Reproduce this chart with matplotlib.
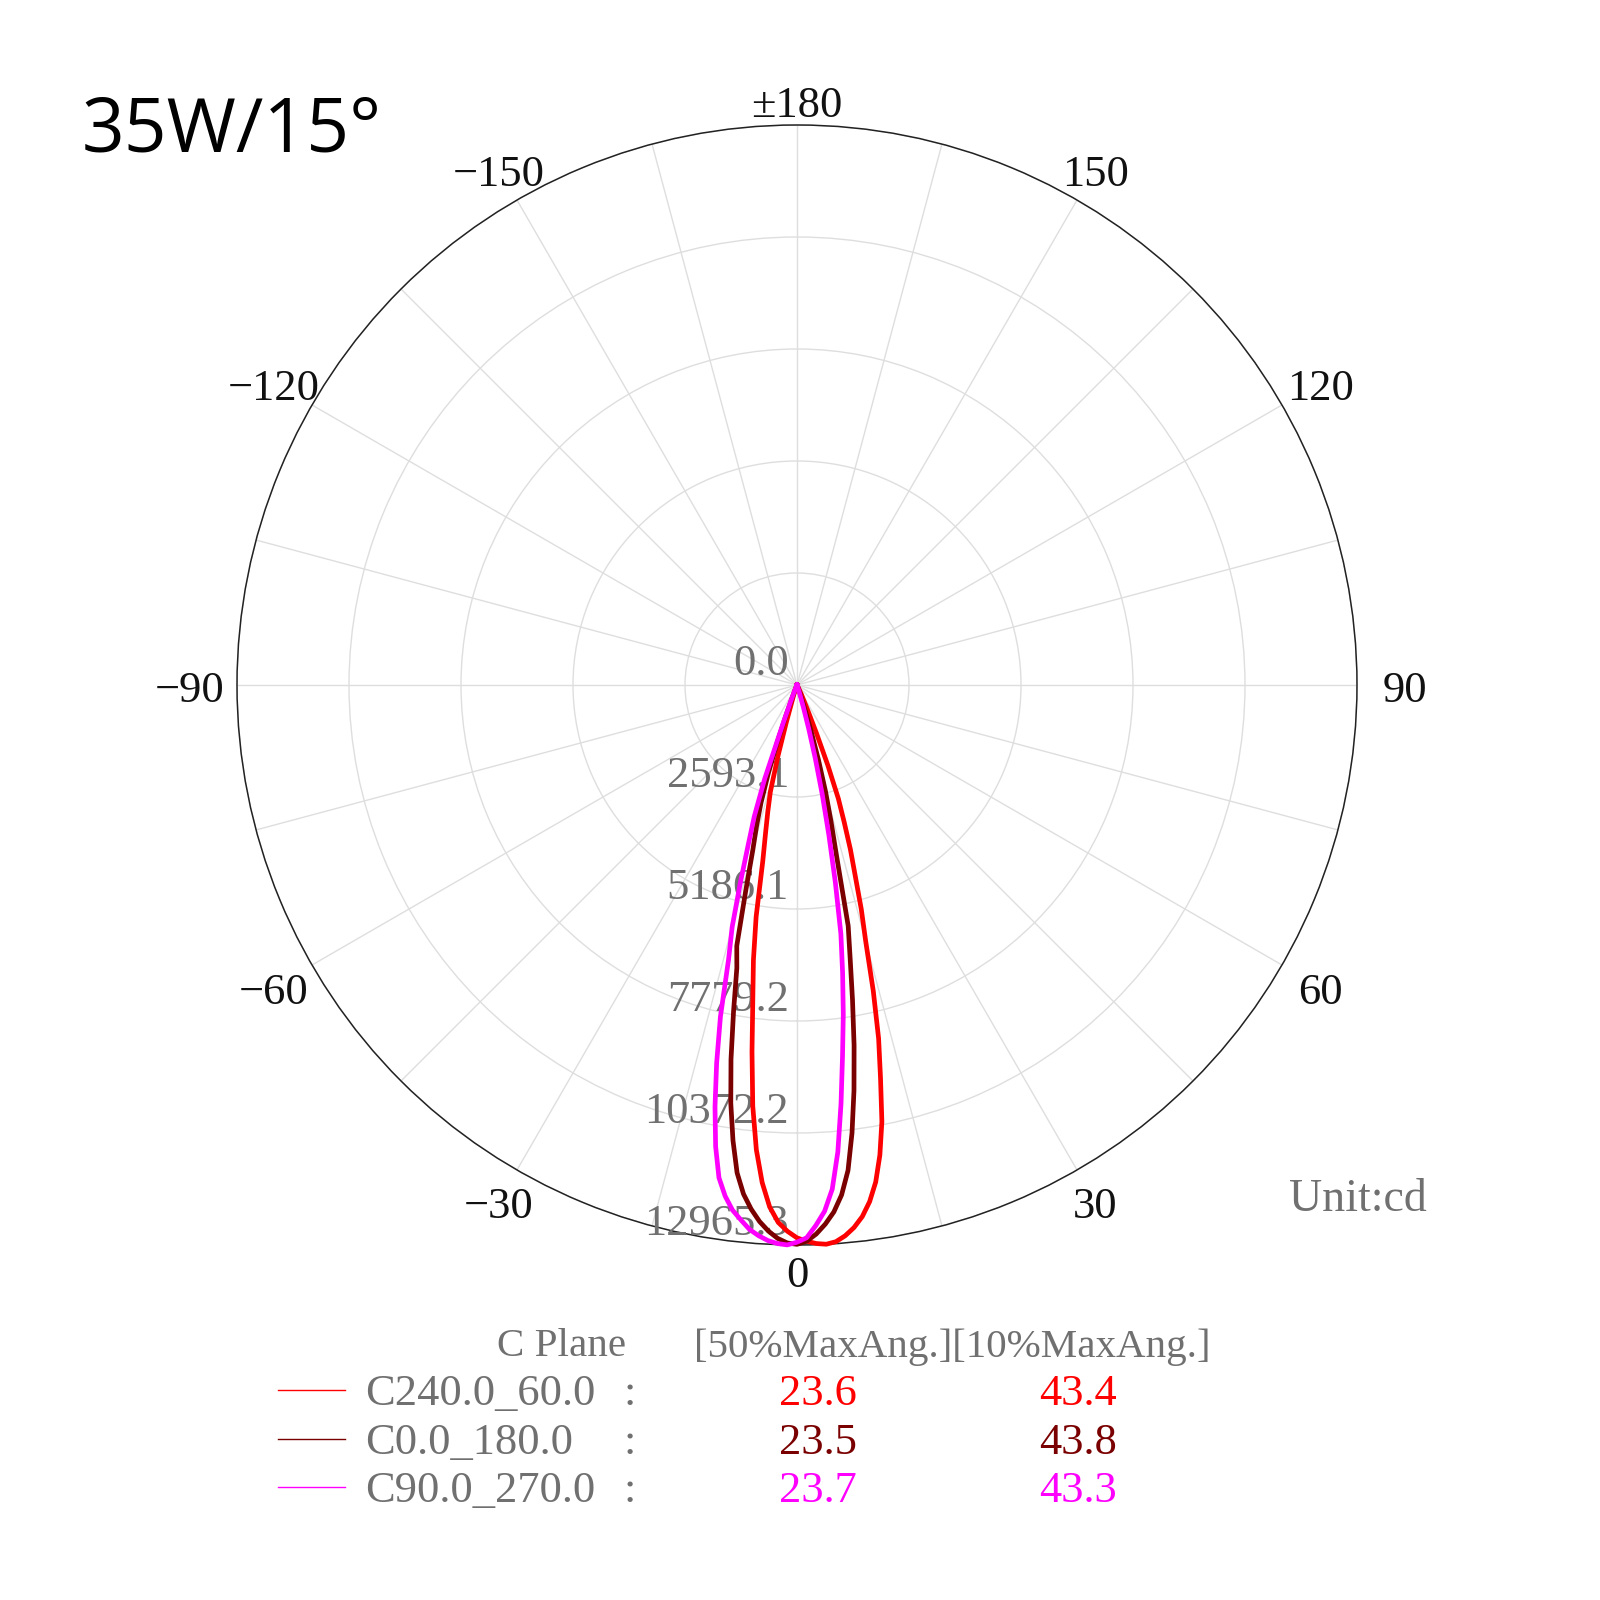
import numpy as np
import matplotlib
matplotlib.use("Agg")
import matplotlib.pyplot as plt
from matplotlib.lines import Line2D
from matplotlib.transforms import offset_copy

# ---------------- data ----------------
title = "35W/15°"
r_max = 12965.3
ring_values = [0.0, 2593.1, 5186.1, 7779.2, 10372.2, 12965.3]
ring_labels = ["0.0", "2593.1", "5186.1", "7779.2", "10372.2", "12965.3"]
angle_ticks = [0, 30, 60, 90, 120, 150, 180, -150, -120, -90, -60, -30]
angle_labels = ["0", "30", "60", "90", "120", "150", "±180", "−150", "−120", "−90", "−60", "−30"]

# signed gamma angle (deg, + = right side) and intensity (cd)
ang_c240 = [-30, -25, -20, -18, -16, -15, -14, -13, -12, -11, -10, -9, -8, -7, -6, -5, -4, -3, -2, -1,
            0, 1, 2, 3, 4, 5, 6, 7, 8, 9, 10, 11, 12, 13, 14, 15, 16, 17, 18, 19, 20, 21, 22, 23, 25, 28, 30]
int_c240 = [0, 20, 80, 250, 900, 1700, 2550, 3000, 3500, 4150, 5450, 6450, 7350, 8550, 9800, 10800, 11550, 12100, 12450, 12650,
            12800, 12880, 12940, 12965, 12920, 12800, 12630, 12400, 12080, 11650, 11050, 10300, 9300, 8400, 7300, 6150, 5400, 4600, 4000, 3350, 2800, 2000, 1200, 650, 250, 60, 0]

ang_c0 = [-30, -25, -22, -20, -19, -18, -17, -16, -15, -14, -13, -12, -11, -10, -9, -8, -7, -6, -5, -4, -3, -2, -1,
          0, 1, 2, 3, 4, 5, 6, 7, 8, 9, 10, 11, 12, 13, 14, 15, 16, 17, 18, 20, 22, 25, 30]
int_c0 = [0, 30, 150, 700, 1400, 2150, 2850, 3400, 3950, 4900, 6200, 6700, 7700, 8800, 9800, 10650, 11380, 11850, 12180, 12450, 12660, 12820, 12920,
          12950, 12880, 12720, 12500, 12230, 11850, 11300, 10450, 9480, 8450, 7400, 6450, 5700, 4100, 3250, 2550, 1800, 1100, 600, 200, 60, 0, 0]

ang_c90 = [-30, -25, -22, -21, -20, -19, -18, -17, -16, -15, -14, -13, -12, -11, -10, -9, -8, -7, -6, -5, -4, -3, -2, -1,
           0, 1, 2, 3, 4, 5, 6, 7, 8, 9, 10, 11, 12, 13, 14, 15, 16, 18, 20, 25, 30]
int_c90 = [0, 40, 200, 400, 900, 2300, 3200, 3850, 4750, 5800, 6550, 7880, 8950, 9950, 10850, 11550, 11950, 12250, 12450, 12650, 12780, 12880, 12940, 12965,
           12900, 12800, 12520, 12200, 11700, 10850, 9750, 8650, 7700, 6750, 5850, 4650, 3550, 2600, 1750, 1050, 550, 150, 50, 0, 0]

plane_names = ["C240.0_60.0", "C0.0_180.0", "C90.0_270.0"]
half_max = ["23.6", "23.5", "23.7"]
tenth_max = ["43.4", "43.8", "43.3"]
colors = ["#ff0000", "#7a0000", "#ff00ff"]

# ---------------- figure ----------------
W = H = 1600
fig = plt.figure(figsize=(16, 16), dpi=100)
fig.patch.set_facecolor("white")

R_px = 560
cx, cy = 797, 685
ax = fig.add_axes([(cx - R_px) / W, (H - (cy + R_px)) / H, 2 * R_px / W, 2 * R_px / H], projection="polar")
ax.set_theta_zero_location("S")
ax.set_theta_direction(1)
ax.set_ylim(0, r_max)

ax.set_thetagrids(np.arange(0, 360, 15), labels=[])
ax.set_rgrids(ring_values[1:], labels=[])
ax.grid(True, color="#dedede", linewidth=1.0)
ax.spines["polar"].set_color("#222222")
ax.spines["polar"].set_linewidth(1.1)
ax.tick_params(length=0)

serif = ["Liberation Serif", "DejaVu Serif"]
fs = 32
gray = "#707070"

for ang, val, col in [(ang_c240, int_c240, colors[0]), (ang_c0, int_c0, colors[1]), (ang_c90, int_c90, colors[2])]:
    ax.plot(np.deg2rad(ang), val, color=col, linewidth=3.4, clip_on=False, solid_joinstyle="round", zorder=5)

# angle labels
tr_a = offset_copy(ax.transData, fig=fig, x=0, y=-6, units="dots")
for a, lab in zip(angle_ticks, angle_labels):
    f = 1.045 + 0.04 * abs(np.sin(np.deg2rad(a)))
    ax.text(np.deg2rad(a), r_max * f, lab, transform=tr_a, ha="center", va="center", fontsize=fs,
            family=serif, color="#111111", clip_on=False)

# ring labels
tr = offset_copy(ax.transData, fig=fig, x=-8, y=21, units="dots")
for v, lab in zip(ring_values, ring_labels):
    ax.text(0, v, lab, transform=tr, ha="right", va="center", fontsize=fs,
            family=serif, color=gray, zorder=4, clip_on=False)

def ftxt(x, y, s, **kw):
    fig.text(x / W, 1 - y / H, s, **kw)

ftxt(82, 151, title, fontsize=54, family=["Open Sans", "DejaVu Sans"], color="black", ha="left", va="baseline")
ftxt(1358, 1200, "Unit:cd", fontsize=33, family=serif, color=gray, ha="center", va="center")

# legend table
hfs = 29.5
ftxt(497, 1347, "C Plane", fontsize=hfs, family=serif, color=gray, ha="left", va="center")
ftxt(694, 1347, "[50%MaxAng.][10%MaxAng.]", fontsize=hfs, family=serif, color=gray, ha="left", va="center")
rows_y = [1390, 1439, 1487]
for yy, name, h, t, col in zip(rows_y, plane_names, half_max, tenth_max, colors):
    fig.add_artist(Line2D([278 / W, 345 / W], [1 - yy / H, 1 - yy / H], color=col, linewidth=1.0))
    ty = yy + 4
    ftxt(365, ty, name, fontsize=fs, family=serif, color=gray, ha="left", va="center")
    ftxt(630, ty, ":", fontsize=fs, family=serif, color=gray, ha="center", va="center")
    ftxt(818, ty, h, fontsize=fs, family=serif, color=col, ha="center", va="center")
    ftxt(1078, ty, t, fontsize=fs, family=serif, color=col, ha="center", va="center")

fig.savefig("out.png", dpi=100, facecolor="white")
